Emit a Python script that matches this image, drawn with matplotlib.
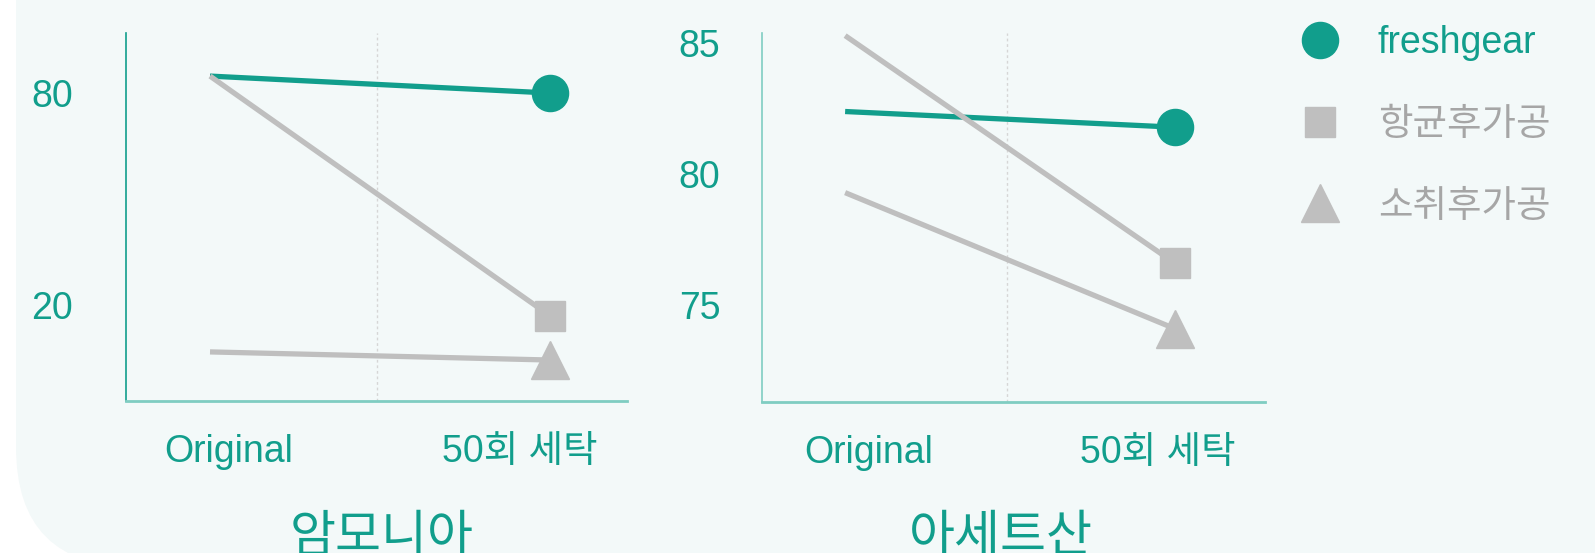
import matplotlib
matplotlib.use("Agg")
import matplotlib.pyplot as plt
from matplotlib.lines import Line2D
from matplotlib.patches import FancyBboxPatch

plt.rcParams['font.family'] = ['Liberation Sans', 'Noto Sans CJK KR', 'DejaVu Sans']

categories = ['Original', '50회 세탁']
series = ['freshgear', '항균후가공', '소취후가공']

ammonia_fresh = [84.8, 80.0]
ammonia_anti = [84.8, 16.9]
ammonia_deo = [6.7, 4.4]
ammonia_ticks = [80, 20]

acetic_fresh = [82.4, 81.8]
acetic_anti = [85.3, 76.6]
acetic_deo = [79.3, 74.1]
acetic_ticks = [85, 80, 75]

teal = '#119e8c'
gray = '#bfbfbf'
light_teal = '#7fcdc2'
bg = '#f3f9f9'

fig = plt.figure(figsize=(15.95, 5.53), dpi=100)
fig.patch.set_facecolor('white')

# rounded background panel (display pixels, origin bottom-left)
box = FancyBboxPatch((16, -14), 2000, 1000,
                     boxstyle="round,pad=0,rounding_size=120",
                     transform=None, facecolor=bg, edgecolor='none', zorder=-5)
fig.patches.append(box)

ax1 = fig.add_axes([126 / 1595, 1 - 401 / 553, 501 / 1595, 368 / 553])
ax2 = fig.add_axes([762 / 1595, 1 - 402 / 553, 503 / 1595, 369 / 553])

panels = [
    (ax1, ammonia_fresh, ammonia_anti, ammonia_deo, ammonia_ticks, (-7.2, 97),
     (-0.247, 1.226), [0.056, 0.912], '암모니아', 382, 38),
    (ax2, acetic_fresh, acetic_anti, acetic_deo, acetic_ticks, (71.3, 85.4),
     (-0.252, 1.273), [0.07, 0.948], '아세트산', 1001, 30),
]

x = [0, 1]
for ax, fresh, anti, deo, ticks, ylim, xlim, xt, title, tx, ypad in panels:
    ax.set_facecolor('none')
    ax.plot(x, fresh, color=teal, lw=3.8, marker='o', markersize=26,
            markevery=[1], solid_capstyle='butt', zorder=3)
    ax.plot(x, anti, color=gray, lw=3.8, marker='s', markersize=21,
            markevery=[1], solid_capstyle='butt', zorder=4)
    ax.plot(x, deo, color=gray, lw=3.8, marker='^', markersize=27,
            markevery=[1], solid_capstyle='butt', zorder=4)
    ax.axvline(0.49, color='#d6d6d6', lw=1, ls=(0, (2, 2)), zorder=1)
    ax.set_xlim(*xlim)
    ax.set_ylim(*ylim)
    ax.set_xticks(xt)
    ax.set_xticklabels(categories)
    ax.set_yticks(ticks)
    ax.tick_params(axis='x', length=0, pad=24, labelsize=27, labelcolor=teal)
    ax.tick_params(axis='y', length=0, pad=ypad, labelsize=27, labelcolor=teal)
    for s in ['top', 'right']:
        ax.spines[s].set_visible(False)
    ax.spines['left'].set_color(teal if ax is ax1 else light_teal)
    ax.spines['left'].set_linewidth(1.2)
    ax.spines['bottom'].set_color(light_teal)
    ax.spines['bottom'].set_linewidth(2)
    fig.text(tx / 1595, 2 / 553, title, ha='center', va='baseline',
             fontsize=36, color=teal)

handles = [
    Line2D([], [], ls='none', marker='o', markersize=26, color=teal),
    Line2D([], [], ls='none', marker='s', markersize=22, color=gray),
    Line2D([], [], ls='none', marker='^', markersize=28, color=gray),
]
fig.legend(handles, series, loc='upper left',
           bbox_to_anchor=(1301 / 1595, 1 - 25 / 553), frameon=False,
           fontsize=27, handlelength=1.0, handletextpad=1.05,
           labelspacing=1.22, borderpad=0, borderaxespad=0,
           labelcolor=[teal, '#a6a6a6', '#a6a6a6'])

plt.savefig("out.png", dpi=100, facecolor=fig.get_facecolor())
